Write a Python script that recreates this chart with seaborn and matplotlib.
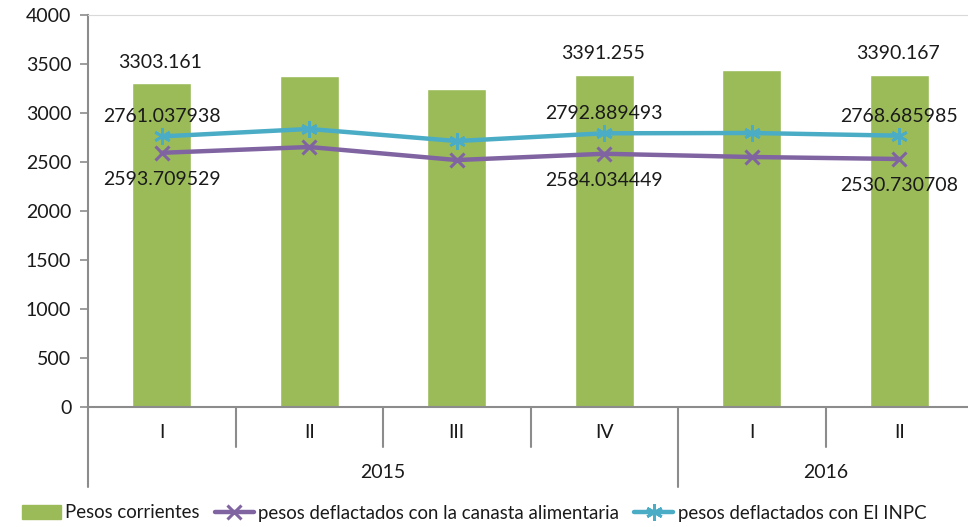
import numpy as np
import pandas as pd
import seaborn as sb
import matplotlib.pyplot as plt
from matplotlib.lines import Line2D
from matplotlib.patches import Patch

trimestres = ["I", "II", "III", "IV", "I", "II"]
anios = ["2015", "2016"]
pesos_corrientes = [3303.161, 3378, 3245, 3391.255, 3439, 3390.167]
canasta = [2593.709529, 2653, 2520, 2584.034449, 2551, 2530.730708]
inpc = [2761.037938, 2837, 2714, 2792.889493, 2796, 2768.685985]

# only some points carry a value label in the original
etiq_barras = [0, 3, 5]
etiq_lineas = [0, 3, 5]

verde = "#9BBB59"
morado = "#8064A2"
azul = "#4BACC6"
gris = "#8C8C8C"
texto = "#1A1A1A"
fs = 14

sb.set_style("white")
plt.rcParams["font.family"] = ["Lato", "DejaVu Sans"]

df = pd.DataFrame({"pos": np.arange(len(trimestres)), "corr": pesos_corrientes,
                   "can": canasta, "inpc": inpc})

fig = plt.figure(figsize=(9.68, 5.27), dpi=100)
ax = fig.add_axes([88 / 968, 120 / 527, 885 / 968, 392 / 527])

sb.barplot(ax=ax, x="pos", y="corr", data=df, color=verde, width=0.4,
           saturation=1, native_scale=True)
ax.plot(df["pos"], df["can"], color=morado, lw=3.2, marker="x", ms=10, mew=2.2)
ax.plot(df["pos"], df["inpc"], color=azul, lw=3.2, marker=(6, 2, 0), ms=12, mew=2)

for i in etiq_barras:
    ax.annotate(f"{pesos_corrientes[i]:.3f}", (i, pesos_corrientes[i]), xytext=(-1, 9),
                textcoords="offset points", ha="center", va="bottom", fontsize=fs, color=texto)
for i in etiq_lineas:
    ax.annotate(f"{inpc[i]:.6f}", (i, inpc[i]), xytext=(0, 8),
                textcoords="offset points", ha="center", va="bottom", fontsize=fs, color=texto)
    ax.annotate(f"{canasta[i]:.6f}", (i, canasta[i]), xytext=(0, -13),
                textcoords="offset points", ha="center", va="top", fontsize=fs, color=texto)

ax.set_xlim(-0.5, 5.5)
ax.set_ylim(0, 4000)
ax.set_yticks(np.arange(0, 4001, 500))
ax.set_xticks([])
ax.set_xlabel("")
ax.set_ylabel("")
ax.tick_params(axis="y", direction="out", length=6, width=1.2, color=gris,
               labelsize=fs, labelcolor=texto, left=True, pad=6)

ax.spines["right"].set_visible(False)
ax.spines["top"].set_color("#D9D9D9")
ax.spines["left"].set_color(gris)
ax.spines["bottom"].set_color(gris)
ax.spines["left"].set_linewidth(1.5)
ax.spines["bottom"].set_linewidth(1.5)

# two-level category axis drawn under the plot
trans = ax.get_xaxis_transform()
px = 1 / (392 / 527 * 5.27 * 100)
for xb in [0.5, 1.5, 2.5, 4.5]:
    ax.plot([xb, xb], [0, -40 * px], transform=trans, color=gris, lw=1.5, clip_on=False)
for xb in [-0.5, 3.5]:
    ax.plot([xb, xb], [0, -80 * px], transform=trans, color=gris, lw=1.5, clip_on=False)
for i, t in enumerate(trimestres):
    ax.text(i, -26 * px, t, transform=trans, ha="center", va="center",
            fontsize=fs, color=texto)
ax.text(1.5, -66 * px, anios[0], transform=trans, ha="center", va="center",
        fontsize=fs, color=texto)
ax.text(4.5, -66 * px, anios[1], transform=trans, ha="center", va="center",
        fontsize=fs, color=texto)

handles = [
    Patch(facecolor=verde, edgecolor=verde),
    Line2D([], [], color=morado, lw=3.2, marker="x", ms=10, mew=2.2),
    Line2D([], [], color=azul, lw=3.2, marker=(6, 2, 0), ms=12, mew=2),
]
labels = ["Pesos corrientes", "pesos deflactados con la canasta alimentaria",
          "pesos deflactados con El INPC"]
fig.legend(handles, labels, loc="center left", bbox_to_anchor=(0.005, 14 / 527),
           ncol=3, frameon=False, fontsize=13.4, handlelength=2.1, handletextpad=0.25,
           columnspacing=0.8, labelcolor=texto)

plt.savefig("out.png", dpi=100)
